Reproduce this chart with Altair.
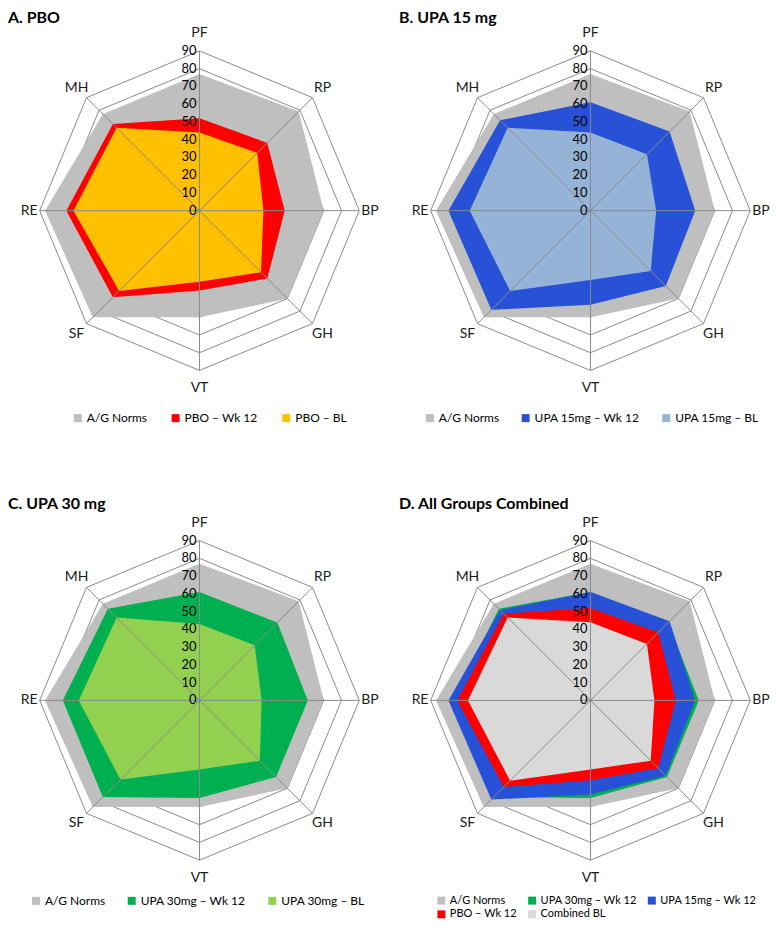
import altair as alt
import pandas as pd

# ---------------- data ----------------
categories = ["PF", "RP", "BP", "GH", "VT", "SF", "RE", "MH"]
ag_norms    = [77, 79, 70, 70, 60, 85, 87, 77]
pbo_wk12    = [52, 54, 48, 54, 45, 69, 75, 69]
pbo_bl      = [44, 46, 36, 49, 40, 64, 71, 66]
upa15_wk12  = [61, 63, 59, 60, 53, 79, 80, 72]
upa15_bl    = [44, 45, 37, 48, 39, 64, 68, 66]
upa30_wk12  = [61, 62, 61, 61, 55, 77, 77, 73]
upa30_bl    = [43, 44, 35, 48, 39, 63, 68, 66]
combined_bl = [44, 45, 36, 48, 39, 64, 69, 66]
tick_values = [0, 10, 20, 30, 40, 50, 60, 70, 80, 90]

FONT = "Lato"
GRID = "#8a8a8a"
C_NORM = "#bfbfbf"
C_RED = "#ff0000"
C_YEL = "#ffc000"
C_BLUE = "#2751d6"
C_LBLUE = "#95b3d7"
C_GREEN = "#00b050"
C_LGREEN = "#92d050"
C_CBL = "#d9d9d9"

PX = 1.78                    # pixels per score unit
LEFT_PX, RIGHT_PX = 192, 180  # plot extent left/right of the radar centre
W = LEFT_PX + RIGHT_PX

XY = dict(
    x="datum.value * sin(datum.idx * PI / 4)",
    y="datum.value * cos(datum.idx * PI / 4)",
)


def series_df(name, values):
    rows = [{"series": name, "idx": i, "value": v} for i, v in enumerate(values)]
    rows.append({"series": name, "idx": len(values), "value": values[0]})
    return pd.DataFrame(rows)


def panel(title, series, top_px, bottom_px, lx, ly, cpad, lfs):
    names = [s[0] for s in series]
    colors = [s[2] for s in series]
    xs = alt.Scale(domain=[-LEFT_PX / PX, RIGHT_PX / PX], nice=False, zero=False)
    ys = alt.Scale(domain=[-bottom_px / PX, top_px / PX], nice=False, zero=False)

    rings_df = pd.DataFrame(
        [{"ring": r, "idx": i, "value": r} for r in tick_values[1:] for i in range(len(categories) + 1)]
    )
    rings = (
        alt.Chart(rings_df)
        .transform_calculate(**XY)
        .mark_line(stroke=GRID, strokeWidth=1)
        .encode(
            x=alt.X("x:Q", scale=xs, axis=None),
            y=alt.Y("y:Q", scale=ys, axis=None),
            detail="ring:N",
            order="idx:Q",
        )
    )
    layers = [rings]

    fill = alt.Fill(
        "series:N",
        scale=alt.Scale(domain=names, range=colors),
        legend=alt.Legend(
            orient="none", legendX=lx, legendY=ly, direction="horizontal",
            columns=3, symbolType="square", symbolSize=64,
            symbolStrokeWidth=0, symbolOpacity=1, labelFontSize=lfs, labelFont=FONT,
            labelColor="#000000", labelOffset=3, columnPadding=cpad, rowPadding=2,
            padding=0, title=None, labelLimit=300,
        ),
    )
    for name, vals, _c in series:
        layers.append(
            alt.Chart(series_df(name, vals))
            .transform_calculate(**XY)
            .mark_line(strokeWidth=0, fillOpacity=1)
            .encode(
                x=alt.X("x:Q", scale=xs, axis=None),
                y=alt.Y("y:Q", scale=ys, axis=None),
                fill=fill,
                order="idx:Q",
            )
        )

    cat_df = pd.DataFrame({"cat": categories, "idx": list(range(len(categories)))})
    spokes = (
        alt.Chart(cat_df)
        .transform_calculate(
            x0="0", y0="0",
            x1=f"{tick_values[-1]} * sin(datum.idx * PI / 4)",
            y1=f"{tick_values[-1]} * cos(datum.idx * PI / 4)",
        )
        .mark_rule(stroke=GRID, strokeWidth=1)
        .encode(
            x=alt.X("x0:Q", scale=xs, axis=None),
            y=alt.Y("y0:Q", scale=ys, axis=None),
            x2="x1:Q",
            y2="y1:Q",
        )
    )
    ticks = (
        alt.Chart(pd.DataFrame({"value": tick_values}))
        .transform_calculate(x0="0", label="'' + datum.value")
        .mark_text(align="right", baseline="middle", dx=-3, fontSize=13, font=FONT, color="#000000")
        .encode(
            x=alt.X("x0:Q", scale=xs, axis=None),
            y=alt.Y("value:Q", scale=ys, axis=None),
            text="label:N",
        )
    )
    labels = (
        alt.Chart(cat_df)
        .transform_calculate(
            r="96 + 4 * pow(cos(datum.idx * PI / 4), 2)",
            x="datum.r * sin(datum.idx * PI / 4)",
            y="datum.r * cos(datum.idx * PI / 4)",
        )
        .mark_text(align="center", baseline="middle", fontSize=14, font=FONT, color="#1a1a1a")
        .encode(
            x=alt.X("x:Q", scale=xs, axis=None),
            y=alt.Y("y:Q", scale=ys, axis=None),
            text="cat:N",
        )
    )
    layers += [spokes, ticks, labels]
    return alt.layer(*layers).properties(
        width=W,
        height=top_px + bottom_px,
        title=alt.Title(title, anchor="start", fontSize=16, font=FONT, fontWeight="bold",
                        color="#000000", offset=0),
    )


TOP1, BOT1 = 182, 217
TOP2, BOT2 = 189, 222

pA = panel("A. PBO",
           [("A/G Norms", ag_norms, C_NORM), ("PBO – Wk 12", pbo_wk12, C_RED), ("PBO – BL", pbo_bl, C_YEL)],
           TOP1, BOT1, 64, 384, 22, 12)
pB = panel("B. UPA 15 mg",
           [("A/G Norms", ag_norms, C_NORM), ("UPA 15mg – Wk 12", upa15_wk12, C_BLUE),
            ("UPA 15mg – BL", upa15_bl, C_LBLUE)],
           TOP1, BOT1, 25, 384, 20, 12)
pC = panel("C. UPA 30 mg",
           [("A/G Norms", ag_norms, C_NORM), ("UPA 30mg – Wk 12", upa30_wk12, C_GREEN),
            ("UPA 30mg – BL", upa30_bl, C_LGREEN)],
           TOP2, BOT2, 22, 384, 20, 12)
pD = panel("D. All Groups Combined",
           [("A/G Norms", ag_norms, C_NORM), ("UPA 30mg – Wk 12", upa30_wk12, C_GREEN),
            ("UPA 15mg – Wk 12", upa15_wk12, C_BLUE), ("PBO – Wk 12", pbo_wk12, C_RED),
            ("Combined BL", combined_bl, C_CBL)],
           TOP2, BOT2, 37, 384, 9, 11)

chart = (
    alt.concat(pA, pB, pC, pD, columns=2, spacing={"row": 85, "column": 20}, bounds="flush")
    .resolve_scale(fill="independent", x="independent", y="independent")
    .resolve_legend(fill="independent")
    .configure_view(strokeWidth=0)
    .properties(padding=0, background="white")
)

chart.save("out.html", embed_options={"renderer": "svg", "actions": False})
